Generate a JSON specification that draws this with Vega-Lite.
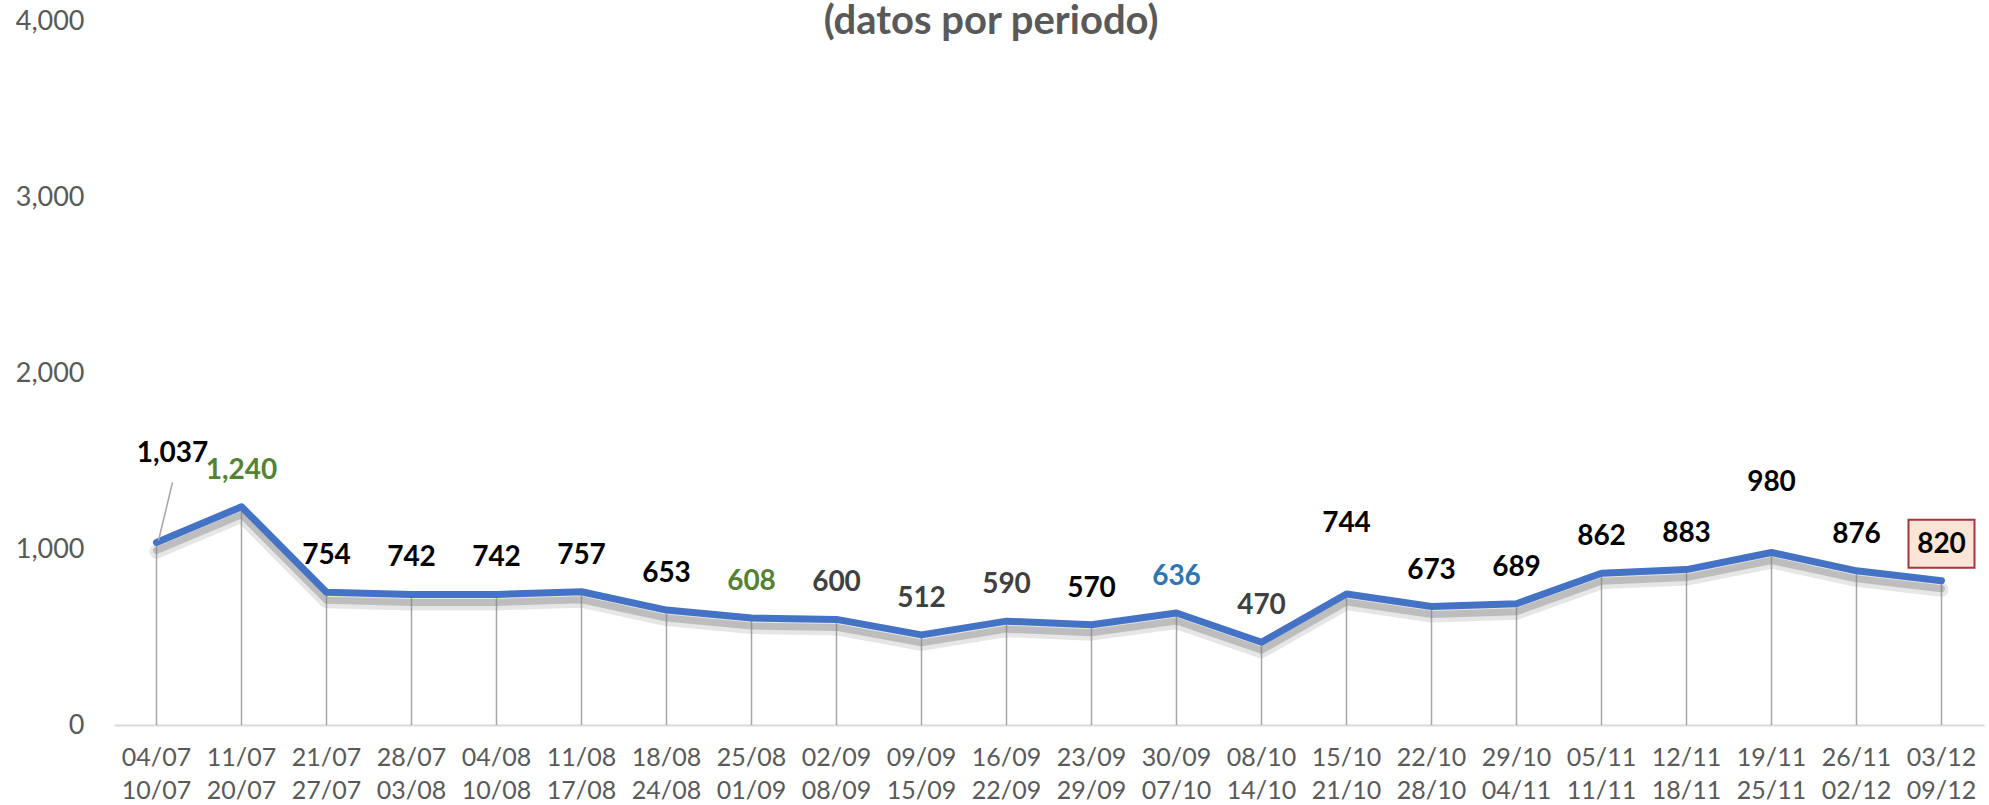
{
  "$schema": "https://vega.github.io/schema/vega-lite/v6.json",
  "width": 1870,
  "height": 704,
  "autosize": {"type": "none"},
  "padding": {"left": 114, "top": 21, "right": 5, "bottom": 80},
  "background": "white",
  "title": {
    "text": "(datos por periodo)",
    "font": "Lato",
    "fontSize": 40,
    "fontWeight": "bold",
    "color": "#595959",
    "anchor": "middle",
    "baseline": "alphabetic",
    "offset": 0,
    "dy": 67,
    "dx": -58
  },
  "config": {"view": {"stroke": null}, "font": "Lato"},
  "data": {
    "values": [
      {"periodo": "04/07-10/07", "valor": 1037},
      {"periodo": "11/07-20/07", "valor": 1240},
      {"periodo": "21/07-27/07", "valor": 754},
      {"periodo": "28/07-03/08", "valor": 742},
      {"periodo": "04/08-10/08", "valor": 742},
      {"periodo": "11/08-17/08", "valor": 757},
      {"periodo": "18/08-24/08", "valor": 653},
      {"periodo": "25/08-01/09", "valor": 608},
      {"periodo": "02/09-08/09", "valor": 600},
      {"periodo": "09/09-15/09", "valor": 512},
      {"periodo": "16/09-22/09", "valor": 590},
      {"periodo": "23/09-29/09", "valor": 570},
      {"periodo": "30/09-07/10", "valor": 636},
      {"periodo": "08/10-14/10", "valor": 470},
      {"periodo": "15/10-21/10", "valor": 744},
      {"periodo": "22/10-28/10", "valor": 673},
      {"periodo": "29/10-04/11", "valor": 689},
      {"periodo": "05/11-11/11", "valor": 862},
      {"periodo": "12/11-18/11", "valor": 883},
      {"periodo": "19/11-25/11", "valor": 980},
      {"periodo": "26/11-02/12", "valor": 876},
      {"periodo": "03/12-09/12", "valor": 820}
    ]
  },
  "encoding": {
    "x": {
      "field": "periodo",
      "type": "nominal",
      "sort": null,
      "scale": {"type": "band", "paddingInner": 0, "paddingOuter": 0},
      "axis": {
        "title": null,
        "labelExpr": "split(datum.value, '-')",
        "labelAngle": 0,
        "labelFont": "Lato",
        "labelFontSize": 25,
        "labelColor": "#595959",
        "labelLineHeight": 33,
        "labelBaseline": "top",
        "labelPadding": 20,
        "ticks": false,
        "tickSize": 0,
        "domainColor": "#D9D9D9",
        "domainWidth": 2,
        "grid": false
      }
    },
    "y": {
      "field": "valor",
      "type": "quantitative",
      "scale": {"domain": [0, 4000], "nice": false},
      "axis": {
        "title": null,
        "values": [0, 1000, 2000, 3000, 4000],
        "format": ",d",
        "labelFont": "Lato",
        "labelFontSize": 27,
        "labelColor": "#595959",
        "labelPadding": 30,
        "ticks": false,
        "tickSize": 0,
        "domain": false,
        "grid": false
      }
    }
  },
  "layer": [
    {
      "mark": {"type": "rule", "color": "#A6A6A6", "strokeWidth": 1.5},
      "encoding": {"y2": {"datum": 0}}
    },
    {
      "mark": {"type": "line", "color": "#808080", "opacity": 0.2, "strokeWidth": 14, "yOffset": 9, "strokeJoin": "round", "strokeCap": "round"},
      "encoding": {}
    },
    {
      "mark": {"type": "line", "color": "#808080", "opacity": 0.4, "strokeWidth": 7, "yOffset": 8, "strokeJoin": "round", "strokeCap": "round"},
      "encoding": {}
    },
    {
      "mark": {"type": "line", "color": "#4472C4", "strokeWidth": 7, "strokeJoin": "round", "strokeCap": "round"},
      "encoding": {}
    },
    {
      "transform": [{"filter": "datum.periodo === '04/07-10/07'"}],
      "mark": {"type": "rule", "color": "#A6A6A6", "strokeWidth": 1.5, "xOffset": 2, "yOffset": -2, "x2Offset": 16, "y2Offset": -60},
      "encoding": {
        "x": {"field": "periodo", "type": "nominal", "sort": null, "bandPosition": 0.5},
        "x2": {"field": "periodo", "bandPosition": 0.5},
        "y2": {"field": "valor"}
      }
    },
    {
      "transform": [{"filter": "datum.periodo === '03/12-09/12'"}],
      "mark": {"type": "point", "shape": "M-1.375,-1L1.375,-1L1.375,1L-1.375,1Z", "size": 2304, "filled": true, "fill": "#FBE5D6", "stroke": "#A9343F", "strokeWidth": 2, "opacity": 1, "yOffset": -37}
    },
    {
      "transform": [{"filter": "indexof(['04/07-10/07','15/10-21/10','19/11-25/11'], datum.periodo) < 0"}],
      "mark": {"type": "text", "font": "Lato", "fontSize": 28, "fontWeight": "bold", "baseline": "middle", "dy": -36},
      "encoding": {
        "text": {"field": "valor", "type": "quantitative", "format": ",d"},
        "color": {
          "condition": [
            {"test": "datum.periodo === '11/07-20/07' || datum.periodo === '25/08-01/09'", "value": "#548235"},
            {"test": "datum.periodo === '30/09-07/10'", "value": "#2E75B6"},
            {"test": "indexof(['02/09-08/09','09/09-15/09','16/09-22/09','08/10-14/10'], datum.periodo) >= 0", "value": "#404040"}
          ],
          "value": "#000000"
        }
      }
    },
    {
      "transform": [{"filter": "datum.periodo === '15/10-21/10' || datum.periodo === '19/11-25/11'"}],
      "mark": {"type": "text", "font": "Lato", "fontSize": 28, "fontWeight": "bold", "baseline": "middle", "dy": -70, "color": "#000000"},
      "encoding": {"text": {"field": "valor", "type": "quantitative", "format": ",d"}}
    },
    {
      "transform": [{"filter": "datum.periodo === '04/07-10/07'"}],
      "mark": {"type": "text", "font": "Lato", "fontSize": 28, "fontWeight": "bold", "baseline": "middle", "dy": -88, "dx": 16, "color": "#000000"},
      "encoding": {"text": {"field": "valor", "type": "quantitative", "format": ",d"}}
    }
  ]
}
